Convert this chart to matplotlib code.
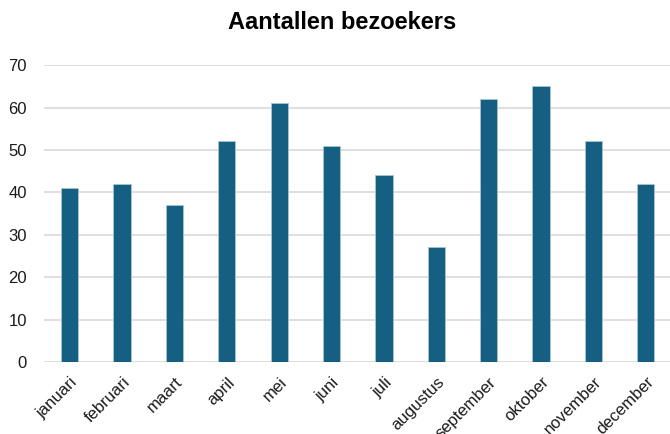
import matplotlib
matplotlib.use("Agg")
import matplotlib.pyplot as plt

maanden = ['januari', 'februari', 'maart', 'april', 'mei', 'juni', 'juli',
           'augustus', 'september', 'oktober', 'november', 'december']
bezoekers = [41, 42, 37, 52, 61, 51, 44, 27, 62, 65, 52, 42]
y_ticks = [0, 10, 20, 30, 40, 50, 60, 70]

plt.rcParams['font.family'] = ['Liberation Sans Narrow', 'Liberation Sans', 'DejaVu Sans']

fig = plt.figure(figsize=(6.7, 4.34), dpi=100)
ax = fig.add_axes([0.065, 0.166, 0.938, 0.684])

x = range(len(maanden))
ax.bar(x, bezoekers, width=0.33, color='#155f82', edgecolor='#a9c4d3',
       linewidth=0.6, zorder=3)

ax.set_xlim(-0.5, len(maanden) - 0.5)
ax.set_ylim(0, 70)
ax.set_yticks(y_ticks)
ax.yaxis.grid(True, color='#d9d9d9', linewidth=1.2, zorder=0)
for s in ax.spines.values():
    s.set_visible(False)
ax.tick_params(axis='both', length=0, labelsize=12, colors='#1a1a1a')
ax.tick_params(axis='y', pad=12)
ax.tick_params(axis='x', pad=9)

ax.set_xticks(list(x))
ax.set_xticklabels(maanden, rotation=45, ha='right', rotation_mode='anchor')

fig.suptitle('Aantallen bezoekers', x=0.51, y=0.975, fontsize=17,
             fontweight='bold', color='black')

fig.savefig('out.png', dpi=100)
